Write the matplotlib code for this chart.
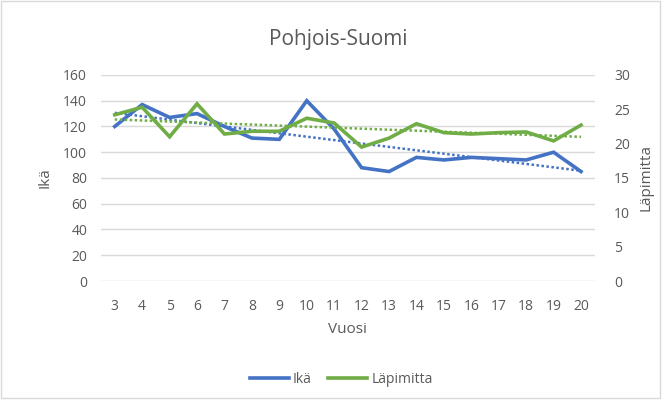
import matplotlib.pyplot as plt
import numpy as np
from matplotlib.patches import Rectangle

# data
vuosi = [3, 4, 5, 6, 7, 8, 9, 10, 11, 12, 13, 14, 15, 16, 17, 18, 19, 20]
ika = [120, 137, 127, 130, 120, 111, 110, 140, 118, 88, 85, 96, 94, 96, 95, 94, 100, 85]
lapimitta = [24.2, 25.3, 21.0, 25.8, 21.4, 21.8, 21.8, 23.7, 23.0, 19.5, 20.8,
             22.9, 21.6, 21.4, 21.6, 21.7, 20.4, 22.7]

blue = "#4472C4"
green = "#70AD47"
gray = "#595959"

plt.rcParams['font.family'] = ['Open Sans', 'DejaVu Sans']

fig = plt.figure(figsize=(6.69, 4.03), dpi=100)
ax = fig.add_axes([0.151, 0.3027, 0.738, 0.5113])
ax2 = ax.twinx()

x = np.array(vuosi)

# main lines
l1, = ax.plot(x, ika, color=blue, lw=2.6, solid_joinstyle="miter", zorder=3)
l2, = ax2.plot(x, lapimitta, color=green, lw=2.6, solid_joinstyle="miter", zorder=3)

# linear trendlines
p1 = np.polyfit(x, ika, 1)
ax.plot(x, np.polyval(p1, x), color=blue, lw=1.8, ls=(0, (1, 1.0)), zorder=2)
p2 = np.polyfit(x, lapimitta, 1)
ax2.plot(x, np.polyval(p2, x), color=green, lw=1.8, ls=(0, (1, 1.0)), zorder=2)

ax.set_xlim(2.5, 20.5)
ax.set_ylim(0, 160)
ax2.set_ylim(0, 30)
ax.set_xticks(vuosi)
ax.set_yticks(range(0, 161, 20))
ax2.set_yticks(range(0, 31, 5))

ax.grid(axis="y", color="#d9d9d9", lw=1)
ax.set_axisbelow(True)
for a in (ax, ax2):
    for s in a.spines.values():
        s.set_visible(False)
    a.tick_params(length=0, colors=gray, labelsize=10)
ax.tick_params(axis="x", pad=13)
ax.tick_params(axis="y", pad=10)
ax2.tick_params(axis="y", pad=14)

ax.set_xlabel("Vuosi", color=gray, fontsize=11, labelpad=6)
ax.set_ylabel("Ikä", color=gray, fontsize=11, labelpad=8)
ax2.set_ylabel("Läpimitta", color=gray, fontsize=11, labelpad=6)

fig.text(0.505, 0.903, "Pohjois-Suomi", ha="center", va="center", color=gray, fontsize=15)

fig.legend([l1, l2], ["Ikä", "Läpimitta"], loc="center", bbox_to_anchor=(0.51, 0.058),
           ncol=2, frameon=False, fontsize=10, labelcolor=gray, handlelength=2.8,
           handletextpad=0.3, columnspacing=1.2)

fig.patches.append(Rectangle((0.002, 0.012), 0.985, 0.985, transform=fig.transFigure,
                             fill=False, edgecolor="#d9d9d9", lw=1))

plt.savefig("out.png", dpi=100)
